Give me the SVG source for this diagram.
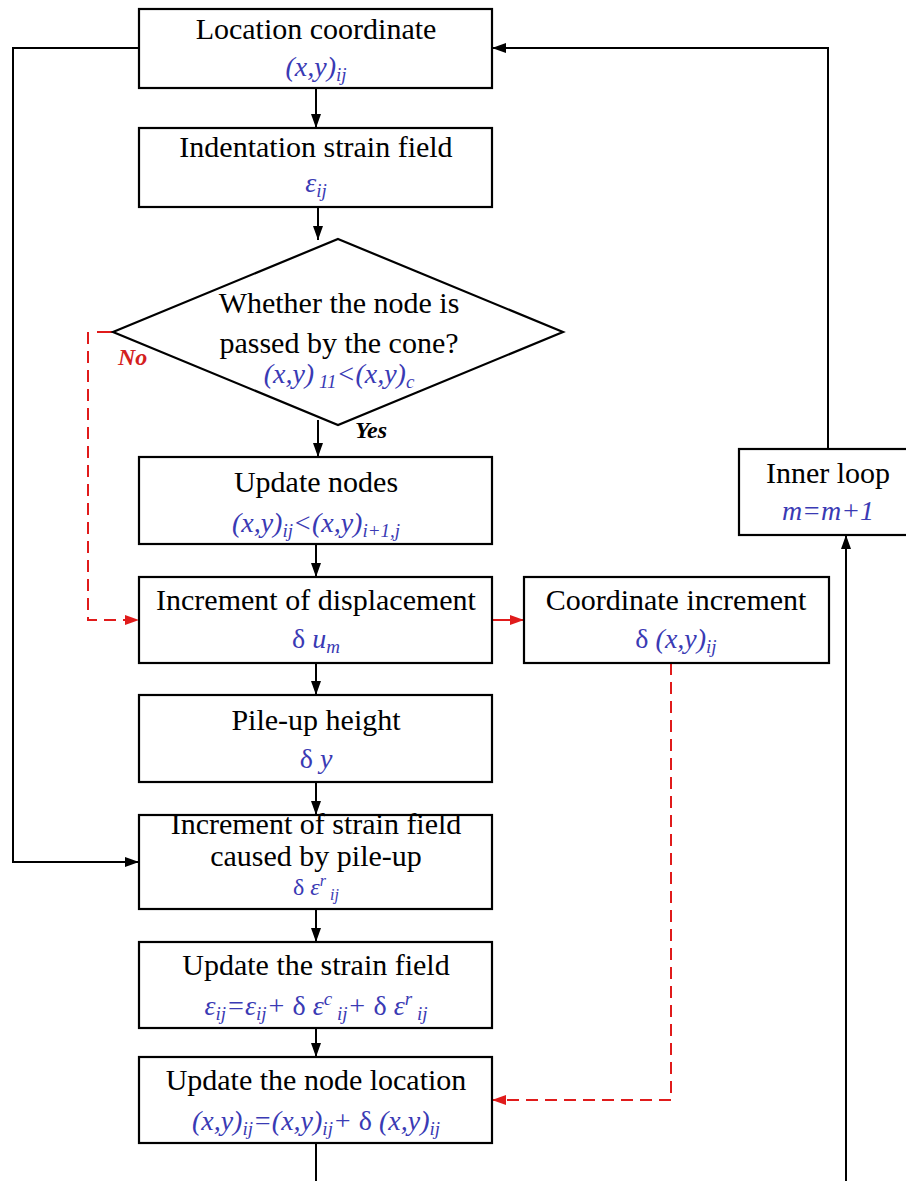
<svg xmlns="http://www.w3.org/2000/svg" width="906" height="1181" viewBox="0 0 906 1181">
<defs>
<style>
.box{fill:#fff;stroke:#000;stroke-width:2.2}
.t{font-family:"Liberation Serif","Times New Roman",serif;font-size:30px;fill:#000;text-anchor:middle}
.f{font-family:"Liberation Serif","Times New Roman",serif;font-size:28px;font-style:italic;fill:#3a3ab4;text-anchor:middle}
.s{font-size:19px}
.g{font-style:normal}
.c{fill:none;stroke:#000;stroke-width:2}
.r{fill:none;stroke:#e01b1b;stroke-width:2}
.d{stroke-dasharray:12 7}
.lbl{font-family:"Liberation Serif","Times New Roman",serif;font-size:24px;font-weight:bold;font-style:italic}
</style>
<marker id="ab" viewBox="0 0 14 10" refX="14" refY="5" markerWidth="14" markerHeight="10" markerUnits="userSpaceOnUse" orient="auto"><path d="M0,0 L14,5 L0,10 z" fill="#000"/></marker>
<marker id="ar" viewBox="0 0 14 10" refX="14" refY="5" markerWidth="14" markerHeight="10" markerUnits="userSpaceOnUse" orient="auto"><path d="M0,0 L14,5 L0,10 z" fill="#e01b1b"/></marker>
</defs>
<rect width="906" height="1181" fill="#fff"/>

<g id="connectors">
<path class="c" d="M316,88 V128" marker-end="url(#ab)"/>
<path class="c" d="M318,207 V240" marker-end="url(#ab)"/>
<path class="c" d="M318,420 V457" marker-end="url(#ab)"/>
<path class="c" d="M316,544 V577" marker-end="url(#ab)"/>
<path class="c" d="M316,663 V695" marker-end="url(#ab)"/>
<path class="c" d="M316,782 V815" marker-end="url(#ab)"/>
<path class="c" d="M316,909 V942" marker-end="url(#ab)"/>
<path class="c" d="M316,1028 V1057" marker-end="url(#ab)"/>
<path class="c" d="M316,1143 V1181"/>
<path class="c" d="M139,48 H13 V862 H139" marker-end="url(#ab)"/>
<path class="c" d="M828,449 V48 H492" marker-end="url(#ab)"/>
<path class="c" d="M846,1181 V535" marker-end="url(#ab)"/>
<path class="r" d="M113,332 H97"/>
<path class="r d" d="M88,332 V620 H139" marker-end="url(#ar)"/>
<path class="r" d="M492,620 H524" marker-end="url(#ar)"/>
<path class="r d" d="M671,663 V1100 H492" marker-end="url(#ar)"/>
<text class="lbl" x="118" y="365" fill="#d41f1f">No</text>
<text class="lbl" x="355" y="438" fill="#000">Yes</text>
</g>

<g id="n1">
<rect class="box" x="139" y="9" width="353" height="79"/>
<text class="t" x="316" y="39">Location coordinate</text>
<text class="f" x="316" y="76">(x,y)<tspan class="s" dy="5">ij</tspan></text>
</g>

<g id="n2">
<rect class="box" x="139" y="128" width="353" height="79"/>
<text class="t" x="316" y="157">Indentation strain field</text>
<text class="f" x="316" y="192">ε<tspan class="s" dy="5">ij</tspan></text>
</g>

<g id="n3">
<polygon class="box" points="338,239 563,332 338,425 113,332"/>
<text class="t" x="339" y="313">Whether the node is</text>
<text class="t" x="339" y="353">passed by the cone?</text>
<text class="f" x="339" y="383">(x,y)<tspan class="s" dy="5"> 11</tspan><tspan dy="-5">&lt;(x,y)</tspan><tspan class="s" dy="5">c</tspan></text>
</g>

<g id="n4">
<rect class="box" x="139" y="457" width="353" height="87"/>
<text class="t" x="316" y="492">Update nodes</text>
<text class="f" x="316" y="532">(x,y)<tspan class="s" dy="5">ij</tspan><tspan dy="-5">&lt;(x,y)</tspan><tspan class="s" dy="5">i+1,j</tspan></text>
</g>

<g id="n5">
<rect class="box" x="139" y="577" width="353" height="86"/>
<text class="t" x="316" y="610">Increment of displacement</text>
<text class="f" x="316" y="648"><tspan class="g">δ</tspan> u<tspan class="s" dy="5">m</tspan></text>
</g>

<g id="n6">
<rect class="box" x="524" y="577" width="305" height="86"/>
<text class="t" x="676" y="610">Coordinate increment</text>
<text class="f" x="676" y="648"><tspan class="g">δ</tspan> (x,y)<tspan class="s" dy="5">ij</tspan></text>
</g>

<g id="n7">
<rect class="box" x="739" y="449" width="180" height="86"/>
<text class="t" x="828" y="483">Inner loop</text>
<text class="f" x="828" y="520">m=m+1</text>
</g>

<g id="n8">
<rect class="box" x="139" y="695" width="353" height="87"/>
<text class="t" x="316" y="730">Pile-up height</text>
<text class="f" x="316" y="768"><tspan class="g">δ</tspan> y</text>
</g>

<g id="n9">
<rect class="box" x="139" y="815" width="353" height="94"/>
<text class="t" x="316" y="834">Increment of strain field</text>
<text class="t" x="316" y="866">caused by pile-up</text>
<text class="f" x="316" y="895" style="font-size:24px"><tspan class="g">δ</tspan> ε<tspan style="font-size:16px" dy="-9">r</tspan><tspan style="font-size:16px" dy="14"> ij</tspan></text>
</g>

<g id="n10">
<rect class="box" x="139" y="942" width="353" height="86"/>
<text class="t" x="316" y="975">Update the strain field</text>
<text class="f" x="316" y="1015">ε<tspan class="s" dy="5">ij</tspan><tspan dy="-5">=ε</tspan><tspan class="s" dy="5">ij</tspan><tspan dy="-5">+ </tspan><tspan class="g">δ</tspan> ε<tspan class="s" dy="-10">c</tspan><tspan class="s" dy="15"> ij</tspan><tspan dy="-5">+ </tspan><tspan class="g">δ</tspan> ε<tspan class="s" dy="-10">r</tspan><tspan class="s" dy="15"> ij</tspan></text>
</g>

<g id="n11">
<rect class="box" x="139" y="1057" width="353" height="86"/>
<text class="t" x="316" y="1090">Update the node location</text>
<text class="f" x="316" y="1130">(x,y)<tspan class="s" dy="5">ij</tspan><tspan dy="-5">=(x,y)</tspan><tspan class="s" dy="5">ij</tspan><tspan dy="-5">+ </tspan><tspan class="g">δ</tspan> (x,y)<tspan class="s" dy="5">ij</tspan></text>
</g>
</svg>
